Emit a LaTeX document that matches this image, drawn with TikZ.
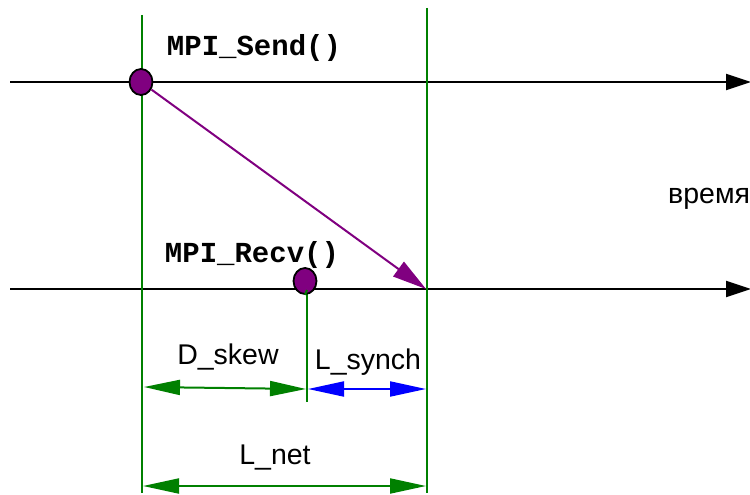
\documentclass[tikz,border=0pt]{standalone}
\usepackage{fontspec}
\setmainfont{Liberation Sans}
\newfontfamily\monob{Liberation Mono}
\usetikzlibrary{arrows.meta,shapes.geometric}
\definecolor{dgreen}{RGB}{0,128,0}
\definecolor{mpurple}{RGB}{128,0,128}
\tikzset{
  timeline/.style={line width=2pt,black,-{Triangle[length=25pt,width=16pt]}},
  vline/.style={line width=2pt,dgreen},
  evt/.style={ellipse,draw=black,line width=1.8pt,fill=mpurple,minimum width=23pt,minimum height=26pt,inner sep=0pt},
  msg/.style={line width=2pt,mpurple,-{Triangle[length=34pt,width=18pt]}},
  dimg/.style={line width=2pt,dgreen,{Triangle[length=36pt,width=15pt]}-{Triangle[length=36pt,width=15pt]}},
  dimb/.style={line width=2pt,blue,{Triangle[length=36pt,width=15pt]}-{Triangle[length=36pt,width=15pt]}},
  lbl/.style={font=\fontsize{28.5}{32}\selectfont,inner sep=0pt},
  fn/.style={font=\monob\bfseries\fontsize{29}{32}\selectfont,inner sep=0pt}
}
\begin{document}
\begin{tikzpicture}[x=1pt,y=-1pt]
\useasboundingbox (0,0) rectangle (750,495);
% coordinates
\coordinate (t1s) at (10,82);
\coordinate (t1e) at (751,82);
\coordinate (t2s) at (10,289);
\coordinate (t2e) at (751,289);
\coordinate (v1t) at (142,15);
\coordinate (v1b) at (142,493);
\coordinate (v2t) at (427,8);
\coordinate (v2b) at (427,493);
\coordinate (v3t) at (307,290);
\coordinate (v3b) at (307,402);
\coordinate (hit) at (426,289);
% time lines
\draw[timeline] (t1s) -- (t1e);
\draw[timeline] (t2s) -- (t2e);
% vertical guides
\draw[vline] (v1t) -- (v1b);
\draw[vline] (v2t) -- (v2b);
\draw[vline] (v3t) -- (v3b);
% events
\node[evt] (send) at (141,82) {};
\node[evt] (recv) at (305,281) {};
\draw[vline] (recv.south) -- (v3t);
% message
\draw[msg] (send) -- (hit);
% labels
\node[fn] (lsend) at (254,48) {MPI\_Send()};
\node[fn] (lrecv) at (252,255) {MPI\_Recv()};
\node[lbl,anchor=west] (time) at (668,199) {время};
% dimension arrows
\coordinate (d1a) at (144,387);
\coordinate (d1b) at (306,389);
\coordinate (d2a) at (308,389);
\coordinate (d2b) at (426,389);
\coordinate (d3a) at (143,486);
\coordinate (d3b) at (426,486);
\draw[dimg] (d1a) -- (d1b);
\draw[dimb] (d2a) -- (d2b);
\draw[dimg] (d3a) -- (d3b);
\node[lbl] (ldskew) at (228,357) {D\_skew};
\node[lbl] (lsynch) at (368,362) {L\_synch};
\node[lbl] (lnet) at (275,458) {L\_net};
\end{tikzpicture}
\end{document}
